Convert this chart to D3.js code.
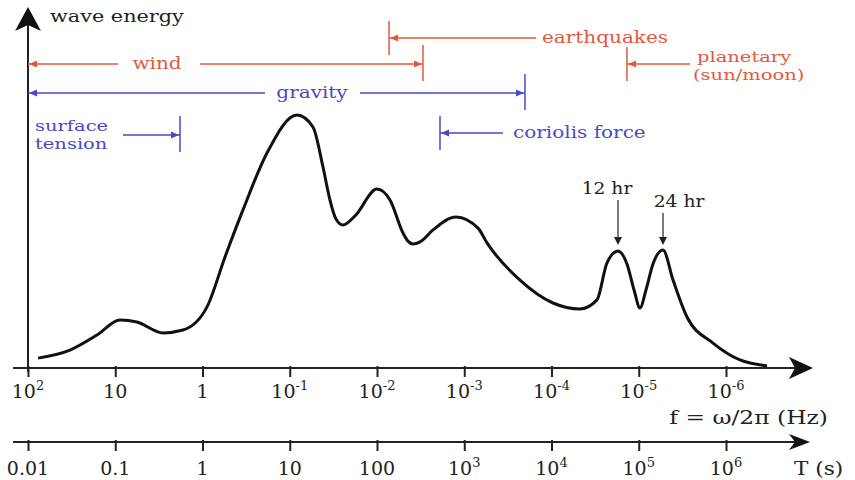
<!DOCTYPE html>
<html>
<head>
<meta charset="utf-8">
<script src="https://cdn.jsdelivr.net/npm/d3@7"></script>
<style>
  body { margin: 0; background: #fff; }
  text { font-family: "DejaVu Serif", serif; fill: #222; }
</style>
</head>
<body>
<script>
// spectrum: log10 of frequency (Hz) and relative wave energy
var logFreq = [1.885, 1.519, 1.209, 0.946, 0.751, 0.453, 0.223, -0.052, -0.258, -0.464,
               -0.739, -1.083, -1.266, -1.381, -1.461, -1.53, -1.61, -1.748, -2.0, -2.149,
               -2.298, -2.355, -2.413, -2.493, -2.642, -2.905, -3.158, -3.261, -3.639, -4.017,
               -4.327, -4.521, -4.636, -4.762, -4.865, -4.946, -5.014, -5.083, -5.163, -5.278,
               -5.393, -5.553, -5.851, -6.16, -6.47];
var energy = [0.038, 0.069, 0.127, 0.185, 0.177, 0.135, 0.146, 0.235, 0.427, 0.608,
              0.827, 0.973, 0.927, 0.773, 0.646, 0.573, 0.55, 0.585, 0.688, 0.646,
              0.519, 0.488, 0.477, 0.485, 0.531, 0.581, 0.538, 0.481, 0.338, 0.25,
              0.227, 0.262, 0.404, 0.45, 0.4, 0.3, 0.231, 0.3, 0.4, 0.454,
              0.338, 0.196, 0.096, 0.031, 0.008];

// axes (log10 values) and their labels
var freqTicks = [2, 1, 0, -1, -2, -3, -4, -5, -6];
var freqLabels = ["10^2", "10", "1", "10^-1", "10^-2", "10^-3", "10^-4", "10^-5", "10^-6"];
var periodTicks = [-2, -1, 0, 1, 2, 3, 4, 5, 6];
var periodLabels = ["0.01", "0.1", "1", "10", "100", "10^3", "10^4", "10^5", "10^6"];

// generating / restoring forces: bounds in log10 Hz (null = open end)
var forceNames = ["earthquakes", "wind", "planetary", "gravity", "surface tension", "coriolis force"];
var forceHighBound = [-2.138, null, -4.865, null, null, -2.722];
var forceLowBound = [null, -2.527, null, -3.696, 0.258, null];
var forceKind = ["generating", "generating", "generating", "restoring", "restoring", "restoring"];

// tidal peaks
var peakNames = ["12 hr", "24 hr"];
var peakFreq = [-4.762, -5.278];

var red = "#e2583a", blue = "#4a48c8";

var svg = d3.select("body").append("svg")
    .attr("width", 855)
    .attr("height", 480);

var x = d3.scaleLinear().domain([2, -6]).range([28, 726]);
var xT = d3.scaleLinear().domain([-2, 6]).range([28, 726]);
var y = d3.scaleLinear().domain([0, 1]).range([368, 108]);

var axisY = y(0), periodY = 442, left = x(2);

// the lettering in the picture is wide, so stretch it a little
function wideText(parent, str, px, py, size, k, anchor, color) {
    return parent.append("text")
        .attr("transform", "translate(" + px + "," + py + ") scale(" + k + ",1)")
        .attr("text-anchor", anchor || "start")
        .style("font-size", size + "px")
        .style("fill", color || "#222")
        .text(str);
}

// label with optional superscript ("10^-2")
function tickLabel(sel, s) {
    var parts = s.split("^");
    sel.text(parts[0]);
    if (parts.length > 1) {
        sel.append("tspan").attr("dy", -8).style("font-size", "13px").text(parts[1]);
    }
}

function arrowHead(g, px, py, dir, color) {
    // small filled arrow head, dir = 1 points right, -1 left
    g.append("path")
        .attr("d", "M" + px + "," + py + "l" + (-8 * dir) + ",-3.5l0,7z")
        .attr("fill", color);
}

// frequency axis
svg.append("g")
    .attr("transform", "translate(0," + axisY + ")")
    .call(d3.axisBottom(x).tickValues(freqTicks).tickSize(9).tickFormat(""))
    .call(function (g) { g.select(".domain").remove(); })
    .selectAll("line").attr("stroke", "#222").attr("stroke-width", 2).attr("y1", -2);

svg.append("line")
    .attr("x1", 13).attr("x2", 800).attr("y1", axisY).attr("y2", axisY)
    .attr("stroke", "#222").attr("stroke-width", 2);
svg.append("path")
    .attr("d", "M813," + axisY + "L789," + (axisY - 11) + "L795," + axisY + "L789," + (axisY + 11) + "Z")
    .attr("fill", "#111");

svg.selectAll(".flab")
    .data(freqTicks)
    .enter()
    .append("text")
    .attr("x", function (d) { return x(d); })
    .attr("y", axisY + 30)
    .attr("text-anchor", "middle")
    .style("font-size", "19px")
    .each(function (d, i) { tickLabel(d3.select(this), freqLabels[i]); });

wideText(svg, "f = ω/2π (Hz)", 828, axisY + 56, 18, 1.3, "end");

// period axis
svg.append("g")
    .attr("transform", "translate(0," + periodY + ")")
    .call(d3.axisBottom(xT).tickValues(periodTicks).tickSize(9).tickFormat(""))
    .call(function (g) { g.select(".domain").remove(); })
    .selectAll("line").attr("stroke", "#222").attr("stroke-width", 2).attr("y1", -2);

svg.append("line")
    .attr("x1", 13).attr("x2", 798).attr("y1", periodY).attr("y2", periodY)
    .attr("stroke", "#222").attr("stroke-width", 2);
svg.append("path")
    .attr("d", "M810," + periodY + "L789," + (periodY - 8) + "L795," + periodY + "L789," + (periodY + 8) + "Z")
    .attr("fill", "#111");

svg.selectAll(".tlab")
    .data(periodTicks)
    .enter()
    .append("text")
    .attr("x", function (d) { return xT(d); })
    .attr("y", periodY + 33)
    .attr("text-anchor", "middle")
    .style("font-size", "19px")
    .each(function (d, i) { tickLabel(d3.select(this), periodLabels[i]); });

wideText(svg, "T (s)", 794, periodY + 33, 18, 1.2);

// energy axis
svg.append("line")
    .attr("x1", left).attr("x2", left).attr("y1", axisY + 4).attr("y2", 20)
    .attr("stroke", "#222").attr("stroke-width", 2);
svg.append("path")
    .attr("d", "M" + left + ",7L" + (left - 13) + ",31L" + left + ",25L" + (left + 13) + ",31Z")
    .attr("fill", "#111");
wideText(svg, "wave energy", 50, 22, 16, 1.3);

// the spectrum
var spectrum = logFreq.map(function (f, i) { return {f: f, e: energy[i]}; });
var valueline = d3.line()
    .x(function (d) { return x(d.f); })
    .y(function (d) { return y(d.e); })
    .curve(d3.curveMonotoneX);

svg.append("path")
    .datum(spectrum)
    .attr("d", valueline)
    .attr("fill", "none")
    .attr("stroke", "#111")
    .attr("stroke-width", 3);

// force ranges
var rows = {
    "earthquakes": {y: 38, lineEnd: 536, labelX: 542},
    "wind": {y: 64, gap: [118, 200], labelX: 157},
    "planetary": {y: 64, lineEnd: 690, labelX: 697},
    "gravity": {y: 93, gap: [265, 360], labelX: 312},
    "surface tension": {y: 135, lineEnd: 123, labelX: 35},
    "coriolis force": {y: 133, lineEnd: 503, labelX: 513}
};

forceNames.forEach(function (name, i) {
    var r = rows[name];
    var color = forceKind[i] === "generating" ? red : blue;
    var g = svg.append("g");
    var hi = forceHighBound[i], lo = forceLowBound[i];

    if (hi !== null) {
        // bounded at the high-frequency (left) side, open to the right
        var bx = x(hi);
        g.append("line").attr("x1", bx).attr("x2", bx).attr("y1", r.y - 17).attr("y2", r.y + 17)
            .attr("stroke", color).attr("stroke-width", 1.5);
        g.append("line").attr("x1", bx).attr("x2", r.lineEnd).attr("y1", r.y).attr("y2", r.y)
            .attr("stroke", color).attr("stroke-width", 1.3);
        arrowHead(g, bx + 1, r.y, -1, color);
    } else {
        var ex = x(lo);
        var sx = r.gap ? left : r.lineEnd;
        g.append("line").attr("x1", ex).attr("x2", ex).attr("y1", r.y - 19).attr("y2", r.y + 17)
            .attr("stroke", color).attr("stroke-width", 1.5);
        if (r.gap) {
            g.append("line").attr("x1", sx).attr("x2", r.gap[0]).attr("y1", r.y).attr("y2", r.y)
                .attr("stroke", color).attr("stroke-width", 1.3);
            g.append("line").attr("x1", r.gap[1]).attr("x2", ex).attr("y1", r.y).attr("y2", r.y)
                .attr("stroke", color).attr("stroke-width", 1.3);
            arrowHead(g, sx + 1, r.y, -1, color);
        } else {
            g.append("line").attr("x1", sx).attr("x2", ex).attr("y1", r.y).attr("y2", r.y)
                .attr("stroke", color).attr("stroke-width", 1.3);
        }
        arrowHead(g, ex - 1, r.y, 1, color);
    }

    var anchor = r.gap ? "middle" : "start";
    if (name === "planetary") {
        wideText(g, "planetary", r.labelX, r.y - 2, 15, 1.3, anchor, color);
        wideText(g, "(sun/moon)", r.labelX - 4, r.y + 16, 15, 1.3, anchor, color);
    } else if (name === "surface tension") {
        wideText(g, "surface", r.labelX, r.y - 4, 15, 1.3, anchor, color);
        wideText(g, "tension", r.labelX, r.y + 14, 15, 1.3, anchor, color);
    } else {
        wideText(g, name, r.labelX, r.y + 5, 16, 1.25, anchor, color);
    }
});

// tidal peak arrows
peakNames.forEach(function (name, i) {
    var px = x(peakFreq[i]);
    var top = i === 0 ? 200 : 213;
    svg.append("line")
        .attr("x1", px).attr("x2", px).attr("y1", top).attr("y2", 238)
        .attr("stroke", "#333").attr("stroke-width", 1.3);
    svg.append("path")
        .attr("d", "M" + px + ",245l-4,-8l8,0z")
        .attr("fill", "#222");
    wideText(svg, name, px + (i === 0 ? -11 : 16), top - 6, 17, 1.1, "middle");
});
</script>
</body>
</html>
